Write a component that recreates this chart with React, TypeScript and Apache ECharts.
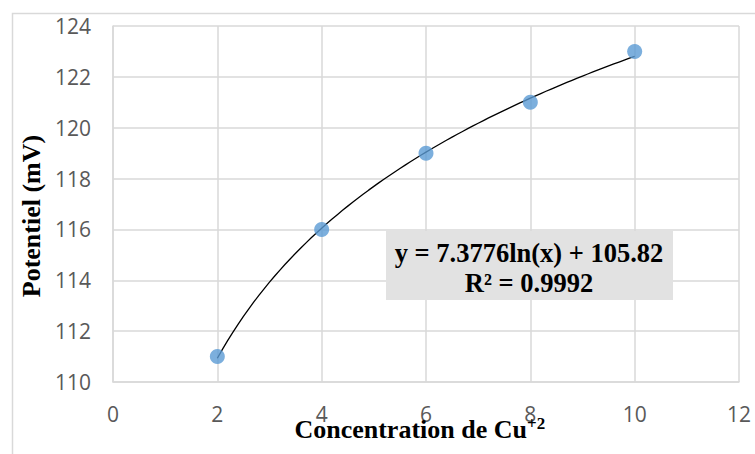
import React, { useEffect, useRef } from "react";
import * as echarts from "echarts";

const concentrations = [2, 4, 6, 8, 10];
const potentials = [111, 116, 119, 121, 123];
const xTicks = [0, 2, 4, 6, 8, 10, 12];
const yTicks = [110, 112, 114, 116, 118, 120, 122, 124];
// Displayed logarithmic trendline: y = 7.3776 ln(x) + 105.82
const trendSlope = 7.3776;
const trendIntercept = 105.82;
const trendFrom = 2;
const trendTo = 10;
const equationText = "y = 7.3776ln(x) + 105.82";
const r2Text = "R² = 0.9992";
const xTitle = "Concentration de Cu";
const xTitleSup = "+2";
const yTitle = "Potentiel (mV)";

export default function App() {
  const ref = useRef<HTMLDivElement>(null);
  useEffect(() => {
    document.body.style.margin = "0";
    const chart = echarts.init(ref.current!, null, { renderer: "svg" });
    const trend: number[][] = [];
    const steps = 80;
    for (let i = 0; i <= steps; i++) {
      const x = trendFrom + ((trendTo - trendFrom) * i) / steps;
      trend.push([x, trendSlope * Math.log(x) + trendIntercept]);
    }
    const tickFont = { color: "#595959", fontSize: 21, fontFamily: "'Open Sans', sans-serif" };
    const serif = "'Liberation Serif', serif";
    chart.setOption({
      animation: false,
      backgroundColor: "#ffffff",
      grid: { left: 113, top: 26, right: 16, bottom: 72, outerBoundsMode: "none", containLabel: false },
      xAxis: {
        type: "value",
        min: xTicks[0],
        max: xTicks[xTicks.length - 1],
        interval: 2,
        axisLine: { show: true, lineStyle: { color: "#d9d9d9", width: 1.5 } },
        axisTick: { show: false },
        splitLine: { show: true, lineStyle: { color: "#d9d9d9", width: 1.5 } },
        axisLabel: { ...tickFont, margin: 25, lineHeight: 14 },
      },
      yAxis: {
        type: "value",
        min: yTicks[0],
        max: yTicks[yTicks.length - 1],
        interval: 2,
        axisLine: { show: true, lineStyle: { color: "#d9d9d9", width: 1.5 } },
        axisTick: { show: false },
        splitLine: { show: true, lineStyle: { color: "#d9d9d9", width: 1.5 } },
        axisLabel: { ...tickFont, margin: 22 },
      },
      series: [
        {
          type: "line",
          data: trend,
          showSymbol: false,
          symbol: "none",
          lineStyle: { color: "#000", width: 1.3 },
          z: 3,
        },
        {
          type: "scatter",
          data: concentrations.map((c, i) => [c, potentials[i]]),
          symbolSize: 15,
          itemStyle: { color: "#5b9bd5" },
          z: 4,
        },
      ],
      graphic: [
        {
          type: "rect",
          left: 10,
          top: 11,
          shape: { width: 800, height: 500 },
          style: { fill: "none", stroke: "#d9d9d9", lineWidth: 1.5 },
          silent: true,
          z: -10,
        },
        {
          type: "text",
          x: 527,
          y: 429,
          style: {
            text: xTitle,
            font: `bold 26px ${serif}`,
            fill: "#000",
            align: "right",
            verticalAlign: "middle",
            lineHeight: 14,
          },
          z: 11,
        },
        {
          type: "text",
          x: 527,
          y: 423,
          style: {
            text: xTitleSup,
            font: `bold 17px ${serif}`,
            fill: "#000",
            align: "left",
            verticalAlign: "middle",
            lineHeight: 10,
          },
          z: 11,
        },
        {
          type: "text",
          x: 31,
          y: 216,
          rotation: Math.PI / 2,
          style: {
            text: yTitle,
            font: `bold 26px ${serif}`,
            fill: "#000",
            align: "center",
            verticalAlign: "middle",
          },
          z: 11,
        },
        {
          type: "rect",
          left: 386,
          top: 231,
          shape: { width: 287, height: 69 },
          style: { fill: "#e2e2e2" },
          z: 10,
        },
        {
          type: "text",
          x: 529,
          y: 253,
          style: {
            text: equationText,
            font: `bold 26.5px ${serif}`,
            fill: "#000",
            align: "center",
            verticalAlign: "middle",
          },
          z: 11,
        },
        {
          type: "text",
          x: 529,
          y: 283,
          style: {
            text: r2Text,
            font: `bold 26.5px ${serif}`,
            fill: "#000",
            align: "center",
            verticalAlign: "middle",
          },
          z: 11,
        },
      ],
    });
    return () => chart.dispose();
  }, []);
  return (
    <div
      ref={ref}
      style={{ position: "absolute", left: 0, top: 0, width: 755, height: 454 }}
    />
  );
}
